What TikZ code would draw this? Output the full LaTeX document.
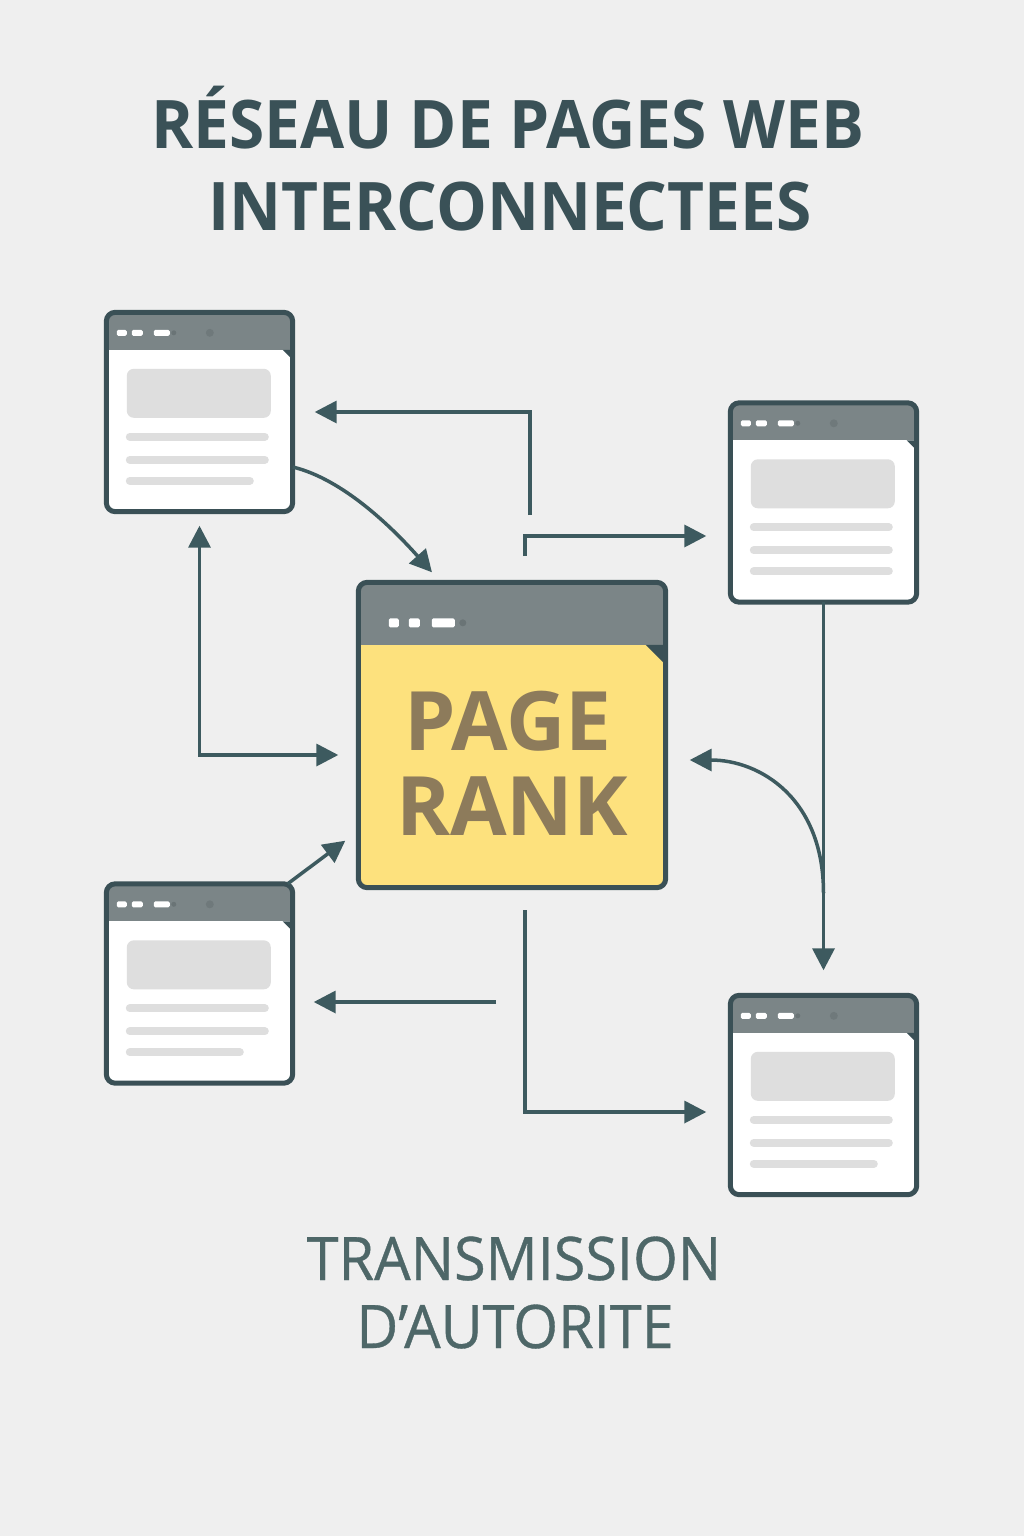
\documentclass[tikz,border=0pt]{standalone}
\usepackage{fontspec}
\setmainfont{Open Sans}
\newfontfamily\titlefont[FakeStretch=0.955]{Open Sans}
\newfontfamily\midfont[FakeBold=0.6,FakeStretch=0.96]{Open Sans}
\usetikzlibrary{arrows.meta,calc}
\definecolor{bg}{HTML}{EFEFEF}
\definecolor{frame}{HTML}{3A5056}
\definecolor{linkc}{HTML}{3D5A5F}
\definecolor{headgray}{HTML}{7B8587}
\definecolor{dotgray}{HTML}{6A7476}
\definecolor{fillgray}{HTML}{DEDEDE}
\definecolor{rankyellow}{HTML}{FDE17D}
\definecolor{ranktext}{HTML}{8D7B5B}
\definecolor{titlec}{HTML}{3A5157}
\definecolor{subc}{HTML}{4E6768}

\begin{document}
\begin{tikzpicture}[x=1pt,y=-1pt]
\tikzstyle{page}=[rectangle,rounded corners=9pt,fill=white,minimum width=186pt,minimum height=199pt,inner sep=0pt]
\tikzstyle{border}=[draw=frame,line width=5pt,rounded corners=9pt]
\tikzstyle{link}=[draw=linkc,line width=3.5pt,-{Triangle[length=22pt,width=22pt]}]
\tikzstyle{bar}=[line width=8pt,line cap=round,draw=fillgray]
\tikzstyle{btn}=[fill=white,rounded corners=1.5pt]
\fill[bg] (0,0) rectangle (1024,1536);
\useasboundingbox (0,0) rectangle (1024,1536);
% titles
\node[anchor=base,font=\titlefont\bfseries\fontsize{67}{70}\selectfont,text=titlec] (title1) at (508,148) {RÉSEAU DE PAGES WEB};
\node[anchor=base,font=\titlefont\bfseries\fontsize{67}{70}\selectfont,text=titlec] (title2) at (510,230) {INTERCONNECTEES};
\node[anchor=base,font=\midfont\fontsize{60}{64}\selectfont,text=subc] (sub1) at (514,1280) {TRANSMISSION};
\node[anchor=base,font=\midfont\fontsize{60}{64}\selectfont,text=subc] (sub2) at (515,1348) {D’AUTORITE};
% small pages
\foreach \name/\point/\last in {
	tl/{199.5,412}/143.5,
	tr/{823.5,502.5}/158.5,
	bl/{199.5,983.5}/133.5,
	br/{823.5,1095}/143.5}
{
	\node[page] (\name) at (\point) {};
	\begin{scope}
	\clip[rounded corners=9pt] (\name.north west) rectangle (\name.south east);
	\fill[headgray] (\name.north west) rectangle ($(\name.north east)+(0,37.5)$);
	\end{scope}
	\fill[btn] ($(\name.north west)+(10.5,17.5)$) rectangle +(10,6);
	\fill[btn] ($(\name.north west)+(25.5,17.5)$) rectangle +(11,6);
	\fill[btn] ($(\name.north west)+(47.5,17.5)$) rectangle +(16,6);
	\fill[dotgray] ($(\name.north west)+(67.5,20.5)$) circle (2.5pt);
	\fill[dotgray!70!headgray] ($(\name.north west)+(103.5,20.5)$) circle (4pt);
	\fill[frame] ($(\name.north east)+(-10,37.5)$) -- ($(\name.north east)+(0,37.5)$) -- ($(\name.north east)+(0,47.5)$) -- cycle;
	\fill[fillgray,rounded corners=7pt] ($(\name.north west)+(20.5,56.5)$) rectangle ($(\name.north west)+(164.5,105.5)$);
	\draw[bar] ($(\name.north west)+(23.5,124.5)$) -- ($(\name.north west)+(158.5,124.5)$);
	\draw[bar] ($(\name.north west)+(23.5,147.5)$) -- ($(\name.north west)+(158.5,147.5)$);
	\draw[bar] ($(\name.north west)+(23.5,168.5)$) -- ($(\name.north west)+(\last,168.5)$);
	\draw[border] (\name.north west) rectangle (\name.south east);
}
% central page
\node[page,fill=rankyellow,minimum width=307pt,minimum height=305pt] (cp) at (512,735) {};
\begin{scope}
\clip[rounded corners=9pt] (cp.north west) rectangle (cp.south east);
\fill[headgray] (cp.north west) rectangle ($(cp.north east)+(0,62.5)$);
\end{scope}
\fill[btn] ($(cp.north west)+(30.5,36)$) rectangle +(10,9);
\fill[btn] ($(cp.north west)+(50.5,36)$) rectangle +(11,9);
\fill[btn] ($(cp.north west)+(73.5,36)$) rectangle +(23,9);
\fill[dotgray] ($(cp.north west)+(104.5,40.5)$) circle (3.5pt);
\fill[frame] ($(cp.north east)+(-20,62.5)$) -- ($(cp.north east)+(0,62.5)$) -- ($(cp.north east)+(0,82.5)$) -- cycle;
\draw[border] (cp.north west) rectangle (cp.south east);
\node[anchor=base,font=\bfseries\fontsize{82}{85}\selectfont,text=ranktext] (rank1) at (508,750) {PAGE};
\node[anchor=base,font=\bfseries\fontsize{82}{85}\selectfont,text=ranktext] (rank2) at (512,835) {RANK};
% free ends
\coordinate (a1) at (530,515);
\coordinate (a2) at (525,556);
\coordinate (a8) at (496,1002);
\coordinate (a9) at (525,910);
\coordinate (j) at ($(tr.south)!0.74!(br.north)$);
% connectors
\draw[link,shorten >=22pt] (a1) |- (tl.east);
\draw[link,shorten >=24pt] (a2) |- ($(tr.west)+(0,33.5)$);
\draw[link] ($(tl.east)+(0,55)$) .. controls +(50,12) and +(-40,-45) .. ($(cp.north)+(-80,-10)$);
\draw[link,{Triangle[length=22pt,width=22pt]}-{Triangle[length=22pt,width=22pt]},shorten <=14pt,shorten >=20pt] (tl.south) |- ($(cp.west)+(0,20)$);
\draw[link] ($(bl.north east)+(-5,0)$) -- ($(cp.south west)+(-13,-47)$);
\draw[link,shorten >=25pt] (tr.south) -- (br.north);
\draw[link] (j) .. controls +(0,-95) and +(70,0) .. ($(cp.east)+(24,25)$);
\draw[link,shorten >=21pt] (a8) -- (a8 -| bl.east);
\draw[link,shorten >=24pt] (a9) |- ($(br.west)+(0,17)$);
\end{tikzpicture}
\end{document}
